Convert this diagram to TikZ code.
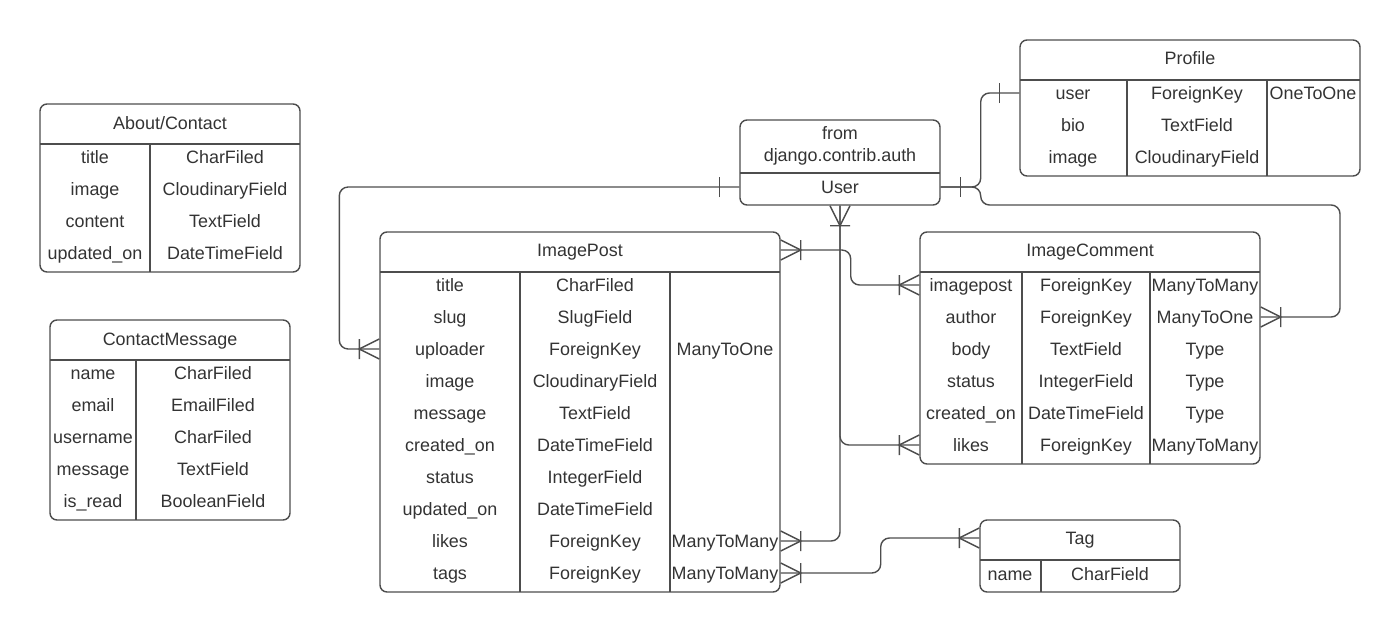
\documentclass[tikz,border=0pt]{standalone}
\usepackage{fontspec}
\setmainfont{Liberation Sans}
\usetikzlibrary{fit}

\definecolor{linec}{HTML}{4D4D4D}
\definecolor{textc}{HTML}{333333}

\tikzset{
  tbl/.style={draw=linec, line width=0.8pt, rounded corners=4pt, inner sep=0pt},
  sep/.style={draw=linec, line width=0.8pt},
  txt/.style={text=textc, font=\fontsize{10.2}{12.5}\selectfont, inner sep=1pt},
  cell/.style={txt, text height=9.8pt, text depth=2.2pt},
  conn/.style={draw=linec, line width=0.8pt, rounded corners=5pt},
  many/.pic={\draw[linec, line width=0.8pt] (0,-10) -- (20,0) -- (0,10) (20,-10) -- (20,10);},
  one/.pic={\draw[linec, line width=0.8pt] (20,-10) -- (20,10);}
}

\begin{document}
\begin{tikzpicture}[x=0.02cm, y=-0.02cm]
\useasboundingbox (0,0) rectangle (1400,632);

% About/Contact
\node[tbl, fit={(40,104) (300,272)}] (about) {};
\node[cell] (abouthead) at (170,123) {About/Contact};
\draw[sep] (40,144) -- (300,144) (150,144) -- (150,272);
\foreach \fld/\typ [count=\i] in {title/CharFiled, image/CloudinaryField, content/TextField, updated\_on/DateTimeField} {
  \node[cell] (abf\i) at (95,125+32*\i) {\fld};
  \node[cell] (abt\i) at (225,125+32*\i) {\typ};
}

% ContactMessage
\node[tbl, fit={(50,320) (290,520)}] (contact) {};
\node[cell] (contacthead) at (170,339) {ContactMessage};
\draw[sep] (50,360) -- (290,360) (136,360) -- (136,520);
\foreach \fld/\typ [count=\i] in {name/CharFiled, email/EmailFiled, username/CharFiled, message/TextField, is\_read/BooleanField} {
  \node[cell] (cmf\i) at (93,341+32*\i) {\fld};
  \node[cell] (cmt\i) at (213,341+32*\i) {\typ};
}

% User
\node[tbl, fit={(740,120) (940,205)}] (user) {};
\node[txt, align=center] (userhead) at (840,146) {from\\django.contrib.auth};
\draw[sep] (740,173) -- (940,173);
\node[cell] (usr) at (840,187) {User};

% Profile
\node[tbl, fit={(1020,40) (1360,176)}] (profile) {};
\node[cell] (profilehead) at (1190,58) {Profile};
\draw[sep] (1020,80) -- (1360,80) (1127,80) -- (1127,176) (1267,80) -- (1267,176);
\foreach \fld/\typ/\rel [count=\i] in {user/ForeignKey/OneToOne, bio/TextField/{}, image/CloudinaryField/{}} {
  \node[cell] (pff\i) at (1073,61+32*\i) {\fld};
  \node[cell] (pft\i) at (1197,61+32*\i) {\typ};
  \node[cell] (pfr\i) at (1313,61+32*\i) {\rel};
}

% ImagePost
\node[tbl, fit={(380,232) (780,592)}] (imagepost) {};
\node[cell] (iphead) at (580,250) {ImagePost};
\draw[sep] (380,272) -- (780,272) (520,272) -- (520,592) (670,272) -- (670,592);
\foreach \fld/\typ/\rel [count=\i] in {title/CharFiled/{}, slug/SlugField/{}, uploader/ForeignKey/ManyToOne, image/CloudinaryField/{}, message/TextField/{}, created\_on/DateTimeField/{}, status/IntegerField/{}, updated\_on/DateTimeField/{}, likes/ForeignKey/ManyToMany, tags/ForeignKey/ManyToMany} {
  \node[cell] (ipf\i) at (450,253+32*\i) {\fld};
  \node[cell] (ipt\i) at (595,253+32*\i) {\typ};
  \node[cell] (ipr\i) at (725,253+32*\i) {\rel};
}

% ImageComment
\node[tbl, fit={(920,232) (1260,464)}] (comment) {};
\node[cell] (ichead) at (1090,250) {ImageComment};
\draw[sep] (920,272) -- (1260,272) (1022,272) -- (1022,464) (1150,272) -- (1150,464);
\foreach \fld/\typ/\rel [count=\i] in {imagepost/ForeignKey/ManyToMany, author/ForeignKey/ManyToOne, body/TextField/Type, status/IntegerField/Type, created\_on/DateTimeField/Type, likes/ForeignKey/ManyToMany} {
  \node[cell] (icf\i) at (971,253+32*\i) {\fld};
  \node[cell] (ict\i) at (1086,253+32*\i) {\typ};
  \node[cell] (icr\i) at (1205,253+32*\i) {\rel};
}

% Tag
\node[tbl, fit={(980,520) (1180,592)}] (tag) {};
\node[cell] (taghead) at (1080,538) {Tag};
\draw[sep] (980,560) -- (1180,560) (1041,560) -- (1041,592);
\node[cell] (tgf1) at (1010,574) {name};
\node[cell] (tgt1) at (1110,574) {CharField};

% Relations
\draw[conn] (user.west |- usr) -- ++(-400,0) |- (imagepost.west |- ipf3);
\draw[conn] (user.east |- usr) -- ++(40,0) |- (profile.west |- pff1);
\draw[conn] (user.east |- usr) -- ++(40,0) |- (1340,205) |- (comment.east |- icf2);
\draw[conn] (user.south) |- (imagepost.east |- ipf9);
\draw[conn] (user.south) |- (comment.west |- icf6);
\draw[conn] (imagepost.east |- iphead) -- ++(70,0) |- (comment.west |- icf1);
\draw[conn] (imagepost.east |- ipf10) -- ++(100,0) |- (tag.west |- taghead);

% Ends
\path (user.west |- usr) pic[rotate=180] {one} (imagepost.west |- ipf3) pic[rotate=180] {many};
\path (user.east |- usr) pic {one} (profile.west |- pff1) pic[rotate=180] {one};
\path (comment.east |- icf2) pic {many};
\path (user.south) pic[rotate=-90] {many} (imagepost.east |- ipf9) pic {many} (comment.west |- icf6) pic[rotate=180] {many};
\path (imagepost.east |- iphead) pic {many} (comment.west |- icf1) pic[rotate=180] {many};
\path (imagepost.east |- ipf10) pic {many} (tag.west |- taghead) pic[rotate=180] {many};
\end{tikzpicture}
\end{document}
